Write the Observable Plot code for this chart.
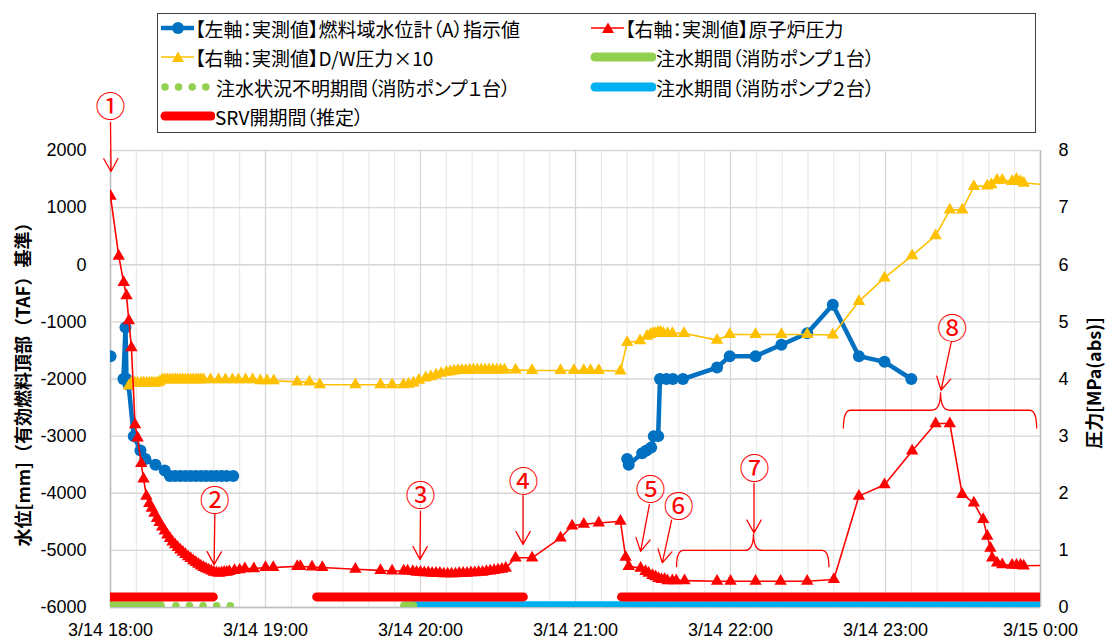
<!DOCTYPE html>
<html><head><meta charset="utf-8">
<script src="https://cdn.jsdelivr.net/npm/d3@7"></script>
<script src="https://cdn.jsdelivr.net/npm/@observablehq/plot@0.6"></script>
<style>
body{margin:0;background:#fff;}
#wrap{position:relative;width:1110px;height:644px;overflow:hidden;font-family:"Noto Sans CJK JP","Noto Sans",sans-serif;}
#legend{position:absolute;left:157px;top:13px;width:879px;height:120px;border:1px solid #404040;box-sizing:border-box;background:#fff;}
.item{position:absolute;height:28px;display:flex;align-items:center;font-size:19px;white-space:nowrap;color:#000;font-feature-settings:"palt";}
.item svg{flex:none;}
.ytitle{position:absolute;font-weight:bold;font-size:18px;white-space:nowrap;transform:translate(-50%,-50%) rotate(-90deg);}
</style>
</head><body>
<div id="wrap"><div id="chart"></div><div id="legend"></div>
<div class="ytitle" style="left:22px;top:380px;">水位[mm]（有効燃料頂部（TAF）基準）</div>
<div class="ytitle" style="left:1093px;top:383px;">圧力[MPa(abs)]</div>
</div>
<script>
// ---- time axis: minutes after 3/14 18:00 ----
const xTickMinutes = [0, 60, 120, 180, 240, 300, 360];
const xTickLabels = ["3/14 18:00","3/14 19:00","3/14 20:00","3/14 21:00","3/14 22:00","3/14 23:00","3/15 0:00"];
const leftTicks = [-6000,-5000,-4000,-3000,-2000,-1000,0,1000,2000];
const leftTickLabels = ["-6000","-5000","-4000","-3000","-2000","-1000","0","1000","2000"];
const rightTickLabels = ["0","1","2","3","4","5","6","7","8"];

// ---- fuel-range water level (A) [mm, TAF basis], left axis ----
const levelMin = [0, 2, 5, 5.8, 6.2, 7, 9, 11.6, 13.5, 17.4, 21,
  23, 25, 27, 29, 31, 33, 35, 37, 39, 41, 43, 45, 47.5, 100,
  200, 200.6, 205.8, 207.5, 209.3, 210.3, 212, 212.7, 215.2, 217.7, 221.6,
  234.8, 239.7, 249.7, 259.7, 269.7, 279.6, 289.7, 299.6, 310];
const levelMM = [-1600, NaN, -2000, -1100, -2000, -2100, -3000, -3250, -3400, -3500, -3600,
  -3700, -3700, -3700, -3700, -3700, -3700, -3700, -3700, -3700, -3700, -3700, -3700, -3700, NaN,
  -3400, -3500, -3300, -3250, -3200, -3000, -3000, -2000, -2000, -2000, -2000,
  -1800, -1600, -1600, -1400, -1200, -700, -1600, -1700, -2000];

// ---- reactor pressure [MPa abs], right axis ----
const rpMin = [0,3.2,5.1,6.2,7.1,8.1,9.5,10.5,11.9,12.8,13.9,15,16,17,18,19,20,21,22,23,24,25,26,27,28,29,30,31,32,33,34,35,36,37,38,39,40,41,42,43,44,45,46,48,50,52,55.5,60,63,72.3,73.5,78,82,94.8,104.5,109,113.5,115,117,118.5,120,121.5,123,124.5,126,127.5,129,130.5,132,133.5,135,136.5,138,139.5,141,142.5,144,145.5,147,148.5,150,151.5,153,156.8,163.2,174.2,178.7,183.2,189,197.4,199.4,200.6,205.2,207.1,208.3,209.8,211,212.1,213.3,214.5,215.6,217.5,219,222.2,234.8,240,249.7,259.4,269.7,280,289.7,299.6,310.3,319.4,324.9,329.7,334.2,337.8,339.4,340.6,341.3,343.2,345.2,349,350.7,352.3,353.5,368];
const rpMPa = [7.2,6.15,5.69,5.46,5.02,4.55,3.2,2.97,2.52,2.25,1.95,1.82,1.74,1.65,1.56,1.49,1.41,1.34,1.27,1.21,1.15,1.10,1.05,1.01,0.97,0.93,0.89,0.86,0.82,0.79,0.76,0.73,0.70,0.68,0.66,0.64,0.62,0.61,0.60,0.61,0.62,0.62,0.63,0.65,0.66,0.68,0.68,0.70,0.70,0.72,0.72,0.71,0.70,0.67,0.65,0.64,0.64,0.64,0.63,0.62,0.62,0.61,0.61,0.60,0.60,0.60,0.59,0.59,0.59,0.59,0.60,0.60,0.60,0.61,0.61,0.62,0.62,0.63,0.64,0.65,0.66,0.67,0.69,0.87,0.87,1.22,1.43,1.46,1.48,1.51,0.88,0.72,0.69,0.63,0.60,0.56,0.54,0.51,0.49,0.49,0.47,0.47,0.47,0.47,0.46,0.46,0.46,0.46,0.46,0.49,1.95,2.15,2.74,3.22,3.22,1.98,1.83,1.54,1.25,1.04,0.87,0.78,0.75,0.74,0.74,0.74,0.73,0.74];

// ---- D/W pressure x10 [MPa abs], right axis ----
const dwMin = [7.1,8.1,9.5,10.5,11.9,12.8,13.9,15,16,17,18,19,20,21,22,23,24,25,26,27,28,29,30,31,32,33,34,35,36,38.7,41.8,44.5,47.2,49.5,52.3,55,58,60.6,63.2,72.3,77,81,94.8,104.5,109,113.4,115.4,117.3,119.4,122,124,126,128,130,131.5,133,134.5,136,137.5,139,140.5,142,143.5,145,146.5,148,149.5,151,152.5,156.8,163.2,174.2,179.4,183.2,185.8,189,197.4,200,205,207.7,209,210,211,212,213,214,215.6,217.5,222,234.8,239.7,249.7,259.7,269.7,279.6,289.7,299.6,310.3,319.4,324.9,329.7,334.2,339.4,341,343.2,345.2,349,350.7,352.3,353.5,368];
const dwMPa = [3.88,3.93,3.93,3.93,3.93,3.93,3.93,3.93,3.93,3.93,3.93,3.95,3.99,3.99,3.99,3.99,3.99,3.99,3.99,3.99,3.99,3.99,3.99,3.99,3.99,3.99,3.99,3.99,3.99,3.99,3.99,3.99,3.99,3.99,3.99,3.99,3.97,3.97,3.97,3.95,3.95,3.9,3.9,3.9,3.9,3.9,3.91,3.93,3.98,4.02,4.04,4.07,4.1,4.12,4.13,4.14,4.15,4.15,4.15,4.16,4.16,4.16,4.16,4.16,4.16,4.16,4.16,4.16,4.16,4.16,4.15,4.15,4.15,4.15,4.15,4.15,4.14,4.64,4.67,4.75,4.78,4.8,4.8,4.82,4.82,4.8,4.8,4.8,4.8,4.68,4.78,4.78,4.78,4.78,4.77,5.36,5.77,6.16,6.51,6.96,6.96,7.37,7.38,7.4,7.48,7.48,7.46,7.5,7.46,7.43,7.38];

// ---- periods (minutes after 18:00) ----
const srvStart = [-10, 80, 198];      // SRV開期間（推定）
const srvEnd   = [40, 160, 380];
const pump1Start = [-10, 114];        // 注水期間（消防ポンプ1台）
const pump1End   = [19.5, 117.2];
const unknownStart = [25.5];          // 注水状況不明期間（消防ポンプ1台）
const unknownEnd   = [47.2];
const pump2Start = [118];             // 注水期間（消防ポンプ2台）
const pump2End   = [380];

// ---- annotations ----
const noteLabels = ["①","②","③","④","⑤","⑥","⑦","⑧"];
const noteMin    = [0, 40.4, 120, 159.9, 209.0, 220.0, 249.3, 325.8];
const noteVal    = [2754, -4140, -4053, -3807, -3950, -4245, -3580, -1125];
const arrowMin1  = [0, 40.4, 120, 159.7, 208.6, 217.2, 249.1, 325.4];
const arrowVal1  = [2491, -4368, -4316, -4044, -4200, -4470, -3824, -1365];
const arrowMin2  = [0.2, 40.1, 119.8, 159.7, 205.2, 213.6, 249.1, 321.5];
const arrowVal2  = [1632, -5249, -5158, -4895, -5018, -5219, -4693, -2197];
const braceLeft  = [219.3, 283.9];
const braceRight = [278.3, 358.7];
const braceMid   = [249.1, 321.5];
const braceEnd   = [-5302, -2877];
const braceBar   = [-5010, -2556];
const bracePeak  = [-4712, -2241];

// ---- build tables ----
const base = new Date(2011, 2, 14, 18, 0, 0);
const T = m => new Date(base.getTime() + m * 60000);
const toLeft = p => p * 1000 - 6000;
const level = levelMin.map((m, i) => ({t: T(m), v: levelMM[i]}));
const rp = rpMin.map((m, i) => ({t: T(m), v: toLeft(rpMPa[i])}));
const dw = dwMin.map((m, i) => ({t: T(m), v: toLeft(dwMPa[i])}));
const seg = (s, e) => s.map((m, i) => ({a: T(m), b: T(e[i])}));
const srv = seg(srvStart, srvEnd), p1 = seg(pump1Start, pump1End), unk = seg(unknownStart, unknownEnd), p2 = seg(pump2Start, pump2End);
const notes = noteLabels.map((s, i) => ({s, t: T(noteMin[i]), v: noteVal[i], t1: T(arrowMin1[i]), v1: arrowVal1[i], t2: T(arrowMin2[i]), v2: arrowVal2[i]}));
const minorTicks = d3.range(0, 361, 10).map(T);
const hourTicks = xTickMinutes.map(T);

const BLUE = "#0070C0", RED = "#FF0000", YEL = "#FFC000", GRN = "#92D050", CYAN = "#00B0F0";
const BAR_SRV = -5815, BAR_PUMP = -5968;

function braces(index, scales) {
  const ns = "http://www.w3.org/2000/svg";
  const g = document.createElementNS(ns, "g");
  braceLeft.forEach((_, i) => {
    const xl = scales.x(T(braceLeft[i])), xr = scales.x(T(braceRight[i])), xm = scales.x(T(braceMid[i]));
    const ye = scales.y(braceEnd[i]), yb = scales.y(braceBar[i]), yp = scales.y(bracePeak[i]);
    const r = 7, rm = 9;
    const d = `M${xl},${ye} Q${xl},${yb} ${xl + r},${yb} L${xm - rm},${yb} Q${xm},${yb} ${xm},${yp} Q${xm},${yb} ${xm + rm},${yb} L${xr - r},${yb} Q${xr},${yb} ${xr},${ye}`;
    const p = document.createElementNS(ns, "path");
    p.setAttribute("d", d); p.setAttribute("fill", "none"); p.setAttribute("stroke", RED); p.setAttribute("stroke-width", 1.3);
    g.appendChild(p);
  });
  return g;
}

const chart = Plot.plot({
  width: 1110, height: 644,
  marginTop: 150, marginBottom: 37, marginLeft: 110, marginRight: 70,
  style: {fontFamily: "'Liberation Sans',Arial,sans-serif", fontSize: "18px", background: "transparent", overflow: "visible"},
  x: {type: "time", domain: [T(0), T(360)]},
  y: {domain: [-6000, 2000]},
  marks: [
    Plot.ruleX(minorTicks, {stroke: "#e6e6e6", strokeWidth: 1}),
    Plot.ruleX(hourTicks, {stroke: "#d6d6d6", strokeWidth: 1.3}),
    Plot.ruleY(leftTicks, {stroke: "#d6d6d6", strokeWidth: 1.3}),
    Plot.ruleX([T(0)], {stroke: "#bfbfbf", strokeWidth: 1.5}),
    Plot.ruleX([T(360)], {stroke: "#bfbfbf", strokeWidth: 1.5}),
    Plot.ruleY([-6000], {stroke: "#bfbfbf", strokeWidth: 1.5}),
    Plot.axisX({ticks: hourTicks, tickSize: 0, tickPadding: 16, tickFormat: (d, i) => xTickLabels[i], fontSize: 18, label: null}),
    Plot.axisY({anchor: "left", ticks: leftTicks, tickSize: 0, tickPadding: 24, tickFormat: (d, i) => leftTickLabels[i], fontSize: 18, label: null}),
    Plot.axisY({anchor: "right", ticks: leftTicks, tickSize: 0, tickPadding: 18, tickFormat: (d, i) => rightTickLabels[i], fontSize: 18, label: null}),
    // period bars
    Plot.ruleY(p2, {x1: "a", x2: "b", y: () => BAR_PUMP, stroke: CYAN, strokeWidth: 9, strokeLinecap: "round", clip: true}),
    Plot.ruleY(p1, {x1: "a", x2: "b", y: () => BAR_PUMP, stroke: GRN, strokeWidth: 9, strokeLinecap: "round", clip: true}),
    Plot.ruleY(unk, {x1: "a", x2: "b", y: () => BAR_PUMP, stroke: GRN, strokeWidth: 7.5, strokeLinecap: "round", strokeDasharray: "0,13.6", clip: true}),
    Plot.ruleY(srv, {x1: "a", x2: "b", y: () => BAR_SRV, stroke: RED, strokeWidth: 9, strokeLinecap: "round", clip: true}),
    // water level
    Plot.line(level, {x: "t", y: "v", stroke: BLUE, strokeWidth: 4.5, clip: true}),
    Plot.dot(level, {x: "t", y: "v", r: 6, fill: BLUE, stroke: "none", clip: true}),
    // D/W pressure x10
    Plot.line(dw, {x: "t", y: "v", stroke: YEL, strokeWidth: 1.6, clip: true}),
    Plot.dot(dw, {x: "t", y: "v", symbol: "triangle", r: 4.6, fill: YEL, stroke: "none", clip: true}),
    // reactor pressure
    Plot.line(rp, {x: "t", y: "v", stroke: RED, strokeWidth: 1.6, clip: true}),
    Plot.dot(rp, {x: "t", y: "v", symbol: "triangle", r: 4.6, fill: RED, stroke: "none", clip: true}),
    // annotations
    Plot.arrow(notes, {x1: "t1", y1: "v1", x2: "t2", y2: "v2", stroke: RED, strokeWidth: 1.3, headLength: 17, headAngle: 58}),
    braces,
    Plot.text(notes, {x: "t", y: "v", text: "s", fill: RED, fontSize: 30, fontFamily: "'Noto Sans CJK JP',sans-serif"})
  ]
});
document.getElementById("chart").appendChild(chart);

// ---- legend ----
const L = document.getElementById("legend");
function item(left, top, swatch, w, text) {
  const d = document.createElement("div");
  d.className = "item"; d.style.left = left + "px"; d.style.top = top + "px";
  d.innerHTML = `<svg width="${w}" height="28" viewBox="0 0 ${w} 28">${swatch}</svg><span>${text}</span>`;
  L.appendChild(d);
}
const tri = (cx, c) => `<path d="M${cx},8.5 L${cx+6},19 L${cx-6},19 Z" fill="${c}"/>`;
item(2, 0, `<line x1="1" y1="14" x2="34" y2="14" stroke="${BLUE}" stroke-width="4.5"/><circle cx="18" cy="14" r="6" fill="${BLUE}"/>`, 35, "【左軸：実測値】燃料域水位計（A）指示値");
item(432, 0, `<line x1="1" y1="14" x2="34" y2="14" stroke="${RED}" stroke-width="1.6"/>${tri(18, RED)}`, 35, "【右軸：実測値】原子炉圧力");
item(2, 29, `<line x1="1" y1="14" x2="34" y2="14" stroke="${YEL}" stroke-width="1.6"/>${tri(18, YEL)}`, 35, "【右軸：実測値】D/W圧力×10");
item(432, 29, `<line x1="5" y1="14" x2="62" y2="14" stroke="${GRN}" stroke-width="9" stroke-linecap="round"/>`, 66, "注水期間（消防ポンプ１台）");
item(2, 59, `<line x1="5" y1="14" x2="46" y2="14" stroke="${GRN}" stroke-width="7.5" stroke-linecap="round" stroke-dasharray="0,13.6"/>`, 56, "注水状況不明期間（消防ポンプ１台）");
item(432, 59, `<line x1="5" y1="14" x2="62" y2="14" stroke="${CYAN}" stroke-width="9" stroke-linecap="round"/>`, 66, "注水期間（消防ポンプ２台）");
item(2, 88, `<line x1="5" y1="14" x2="51" y2="14" stroke="${RED}" stroke-width="9" stroke-linecap="round"/>`, 55, "SRV開期間（推定）");
</script>
</body></html>
